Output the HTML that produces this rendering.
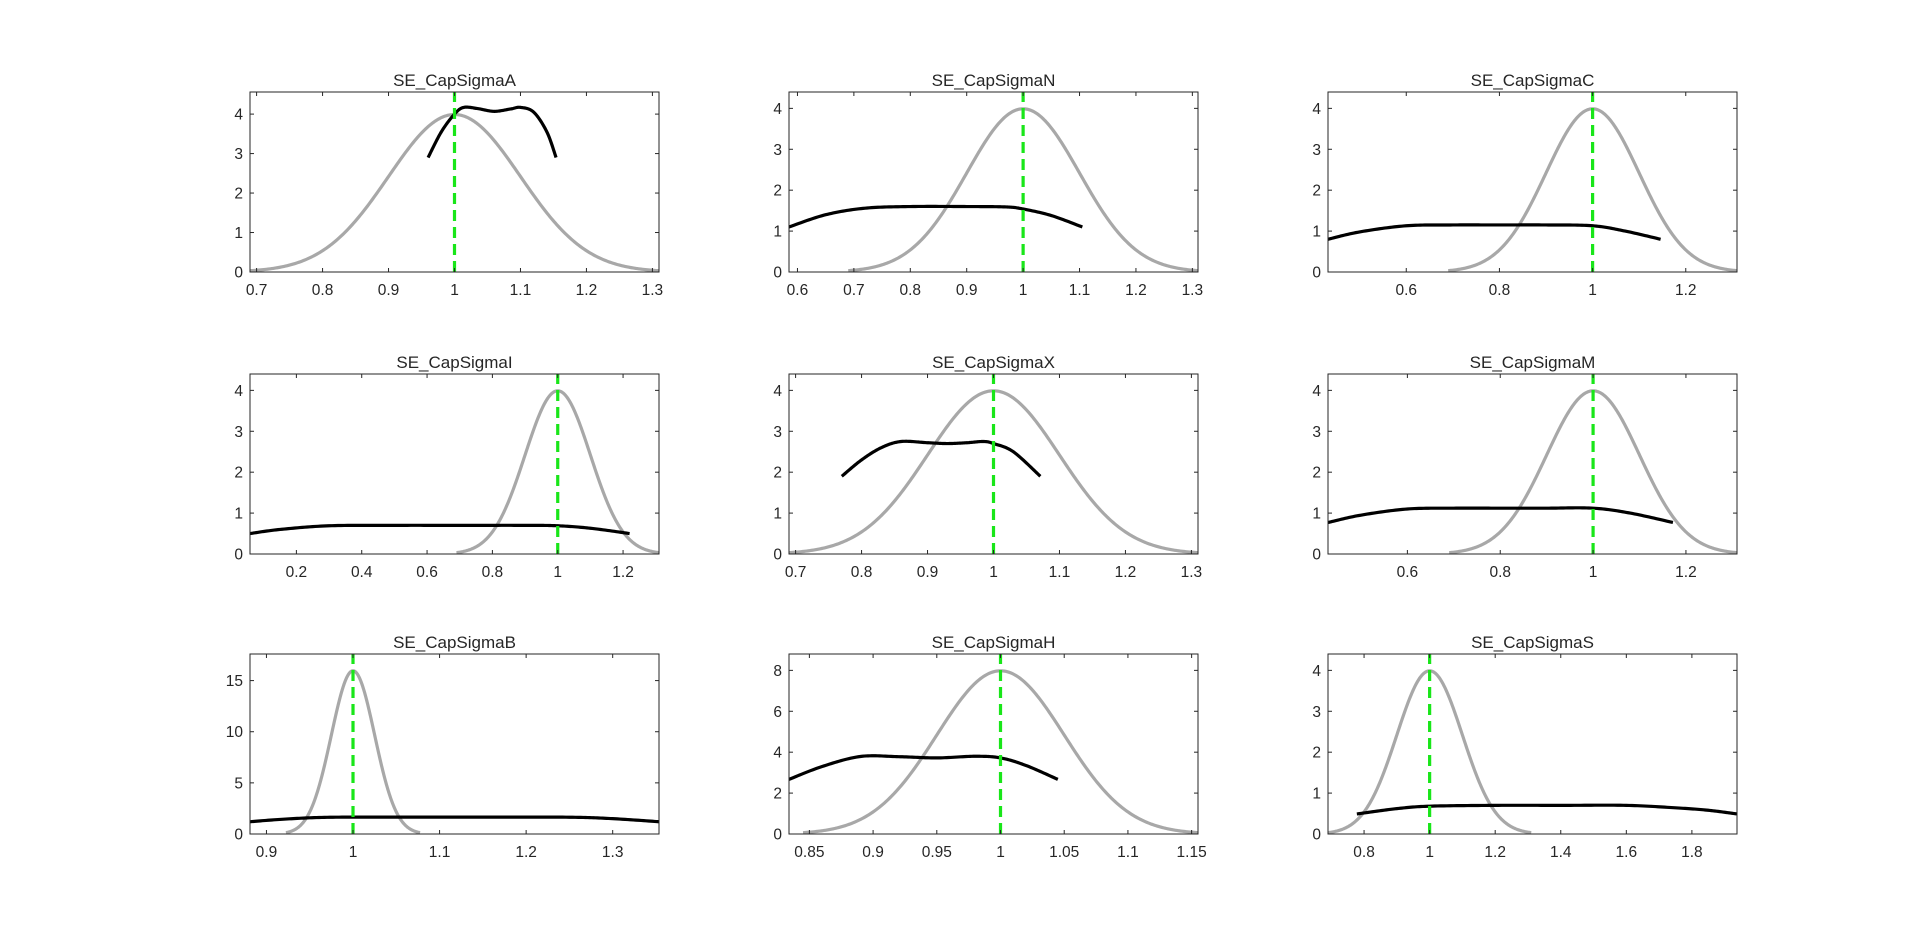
<!DOCTYPE html>
<html><head><meta charset="utf-8">
<style>
html,body{margin:0;padding:0;background:#fff;}
svg{display:block;font-family:"Liberation Sans",Arial,sans-serif;}
text{fill:#262626;}
.title{font-size:17px;text-anchor:middle;}
.xt{font-size:15.5px;text-anchor:middle;}
.yt{font-size:15.5px;text-anchor:end;}
</style></head>
<body>
<svg id="s" width="1920" height="939" viewBox="0 0 1920 939" xmlns="http://www.w3.org/2000/svg">
<rect width="1920" height="939" fill="#fff"/>
<g id="p0"><text class="title">SE_CapSigmaA</text>
<text class="xt">0.7</text><text class="xt">0.8</text><text class="xt">0.9</text><text class="xt">1</text><text class="xt">1.1</text><text class="xt">1.2</text><text class="xt">1.3</text>
<text class="yt">0</text><text class="yt">1</text><text class="yt">2</text><text class="yt">3</text><text class="yt">4</text></g>
<g id="p1"><text class="title">SE_CapSigmaN</text>
<text class="xt">0.6</text><text class="xt">0.7</text><text class="xt">0.8</text><text class="xt">0.9</text><text class="xt">1</text><text class="xt">1.1</text><text class="xt">1.2</text><text class="xt">1.3</text>
<text class="yt">0</text><text class="yt">1</text><text class="yt">2</text><text class="yt">3</text><text class="yt">4</text></g>
<g id="p2"><text class="title">SE_CapSigmaC</text>
<text class="xt">0.6</text><text class="xt">0.8</text><text class="xt">1</text><text class="xt">1.2</text>
<text class="yt">0</text><text class="yt">1</text><text class="yt">2</text><text class="yt">3</text><text class="yt">4</text></g>
<g id="p3"><text class="title">SE_CapSigmaI</text>
<text class="xt">0.2</text><text class="xt">0.4</text><text class="xt">0.6</text><text class="xt">0.8</text><text class="xt">1</text><text class="xt">1.2</text>
<text class="yt">0</text><text class="yt">1</text><text class="yt">2</text><text class="yt">3</text><text class="yt">4</text></g>
<g id="p4"><text class="title">SE_CapSigmaX</text>
<text class="xt">0.7</text><text class="xt">0.8</text><text class="xt">0.9</text><text class="xt">1</text><text class="xt">1.1</text><text class="xt">1.2</text><text class="xt">1.3</text>
<text class="yt">0</text><text class="yt">1</text><text class="yt">2</text><text class="yt">3</text><text class="yt">4</text></g>
<g id="p5"><text class="title">SE_CapSigmaM</text>
<text class="xt">0.6</text><text class="xt">0.8</text><text class="xt">1</text><text class="xt">1.2</text>
<text class="yt">0</text><text class="yt">1</text><text class="yt">2</text><text class="yt">3</text><text class="yt">4</text></g>
<g id="p6"><text class="title">SE_CapSigmaB</text>
<text class="xt">0.9</text><text class="xt">1</text><text class="xt">1.1</text><text class="xt">1.2</text><text class="xt">1.3</text>
<text class="yt">0</text><text class="yt">5</text><text class="yt">10</text><text class="yt">15</text></g>
<g id="p7"><text class="title">SE_CapSigmaH</text>
<text class="xt">0.85</text><text class="xt">0.9</text><text class="xt">0.95</text><text class="xt">1</text><text class="xt">1.05</text><text class="xt">1.1</text><text class="xt">1.15</text>
<text class="yt">0</text><text class="yt">2</text><text class="yt">4</text><text class="yt">6</text><text class="yt">8</text></g>
<g id="p8"><text class="title">SE_CapSigmaS</text>
<text class="xt">0.8</text><text class="xt">1</text><text class="xt">1.2</text><text class="xt">1.4</text><text class="xt">1.6</text><text class="xt">1.8</text>
<text class="yt">0</text><text class="yt">1</text><text class="yt">2</text><text class="yt">3</text><text class="yt">4</text></g>
</svg>
<script>
(function(){
var NS="http://www.w3.org/2000/svg";
var lefts=[250,789,1328], tops=[92,374,654], W=409, H=180;
var P=[
{xl:[0.69,1.31],yl:[0,4.56],sd:0.1,b:[[0.96,2.9],[0.98,3.55],[1.0,4.0],[1.014,4.17],[1.035,4.14],[1.06,4.07],[1.085,4.13],[1.1,4.17],[1.12,4.05],[1.14,3.55],[1.154,2.9]]},
{xl:[0.585,1.31],yl:[0,4.4],sd:0.1,b:[[0.585,1.1],[0.65,1.4],[0.72,1.56],[0.8,1.6],[0.9,1.6],[0.97,1.59],[1.0,1.54],[1.05,1.38],[1.105,1.1]]},
{xl:[0.432,1.31],yl:[0,4.4],sd:0.1,b:[[0.432,0.8],[0.5,0.98],[0.6,1.13],[0.7,1.15],[0.8,1.15],[0.9,1.15],[1.0,1.13],[1.07,1.0],[1.146,0.8]]},
{xl:[0.058,1.31],yl:[0,4.4],sd:0.1,b:[[0.058,0.5],[0.15,0.6],[0.3,0.69],[0.5,0.7],[0.7,0.7],[0.9,0.7],[1.0,0.69],[1.1,0.63],[1.22,0.5]]},
{xl:[0.69,1.31],yl:[0,4.4],sd:0.1,b:[[0.77,1.9],[0.8,2.3],[0.83,2.6],[0.86,2.75],[0.9,2.72],[0.93,2.7],[0.96,2.72],[0.985,2.75],[1.0,2.7],[1.03,2.5],[1.071,1.9]]},
{xl:[0.429,1.31],yl:[0,4.4],sd:0.1,b:[[0.429,0.77],[0.5,0.95],[0.6,1.1],[0.7,1.12],[0.8,1.12],[0.9,1.12],[1.0,1.12],[1.08,1.0],[1.172,0.77]]},
{xl:[0.881,1.3535],yl:[0,17.6],sd:0.025,b:[[0.881,1.2],[0.92,1.45],[0.97,1.63],[1.05,1.65],[1.15,1.65],[1.25,1.64],[1.3,1.5],[1.3535,1.2]]},
{xl:[0.834,1.155],yl:[0,8.8],sd:0.05,b:[[0.834,2.67],[0.86,3.3],[0.89,3.79],[0.92,3.78],[0.95,3.72],[0.98,3.8],[1.0,3.72],[1.02,3.35],[1.045,2.67]]},
{xl:[0.69,1.9376],yl:[0,4.4],sd:0.1,b:[[0.778,0.49],[0.9,0.62],[1.0,0.68],[1.2,0.7],[1.4,0.7],[1.6,0.7],[1.75,0.64],[1.85,0.58],[1.9376,0.49]]}
];
var svg=document.getElementById("s");
var defs=document.createElementNS(NS,"defs");svg.insertBefore(defs,svg.firstChild.nextSibling);
function el(n,a,p){var e=document.createElementNS(NS,n);for(var k in a)e.setAttribute(k,a[k]);(p||svg).appendChild(e);return e;}
function cr(pts){var out=[];for(var i=0;i<pts.length-1;i++){var p0=pts[Math.max(i-1,0)],p1=pts[i],p2=pts[i+1],p3=pts[Math.min(i+2,pts.length-1)];
for(var t=0;t<1;t+=0.05){var t2=t*t,t3=t2*t;var f=function(a,b,c,d){return 0.5*((2*b)+(-a+c)*t+(2*a-5*b+4*c-d)*t2+(-a+3*b-3*c+d)*t3);};
out.push([f(p0[0],p1[0],p2[0],p3[0]),f(p0[1],p1[1],p2[1],p3[1])]);}}out.push(pts[pts.length-1]);return out;}
P.forEach(function(p,i){
var L=lefts[i%3],T=tops[Math.floor(i/3)],B=T+H,R=L+W;
var X=function(v){return L+(v-p.xl[0])/(p.xl[1]-p.xl[0])*W;};
var Y=function(v){return B-(v-p.yl[0])/(p.yl[1]-p.yl[0])*H;};
var g=document.getElementById("p"+i);
var cp=el("clipPath",{id:"c"+i},defs);el("rect",{x:L,y:T,width:W,height:H},cp);
var pg=el("g",{"clip-path":"url(#c"+i+")"});svg.insertBefore(pg,g);
// gray prior
var d="",s=p.sd,a=1-3.1*s,bb=1+3.1*s;
for(var k=0;k<=300;k++){var x=a+(bb-a)*k/300;var y=Math.exp(-0.5*Math.pow((x-1)/s,2))/(s*Math.sqrt(2*Math.PI));d+=(k?"L":"M")+X(x).toFixed(2)+","+Y(y).toFixed(2);}
el("path",{d:d,fill:"none",stroke:"#a8a8a8","stroke-width":3.2},pg);
var bp=cr(p.b),d2="";bp.forEach(function(q,k){d2+=(k?"L":"M")+X(q[0]).toFixed(2)+","+Y(q[1]).toFixed(2);});
el("path",{d:d2,fill:"none",stroke:"#000","stroke-width":3.2,"stroke-linejoin":"round"},pg);
el("line",{x1:X(1),x2:X(1),y1:B,y2:T,stroke:"#19e619","stroke-width":3.2,"stroke-dasharray":"11 6"},pg);
// box
el("rect",{x:L,y:T,width:W,height:H,fill:"none",stroke:"#262626","stroke-width":1},g);
var ts=g.getElementsByTagName("text");
for(var j=0;j<ts.length;j++){var t=ts[j],c=t.getAttribute("class"),v=parseFloat(t.textContent);
if(c=="title"){t.setAttribute("x",L+W/2);t.setAttribute("y",T-6);}
else if(c=="xt"){var xx=X(v);t.setAttribute("x",xx);t.setAttribute("y",B+23);
el("line",{x1:xx,x2:xx,y1:B,y2:B-4,stroke:"#262626","stroke-width":1},g);el("line",{x1:xx,x2:xx,y1:T,y2:T+4,stroke:"#262626","stroke-width":1},g);}
else if(c=="yt"){var yy=Y(v);t.setAttribute("x",L-7);t.setAttribute("y",yy+5.5);
el("line",{x1:L,x2:L+4,y1:yy,y2:yy,stroke:"#262626","stroke-width":1},g);el("line",{x1:R,x2:R-4,y1:yy,y2:yy,stroke:"#262626","stroke-width":1},g);}
}
});
})();
</script>
</body></html>
